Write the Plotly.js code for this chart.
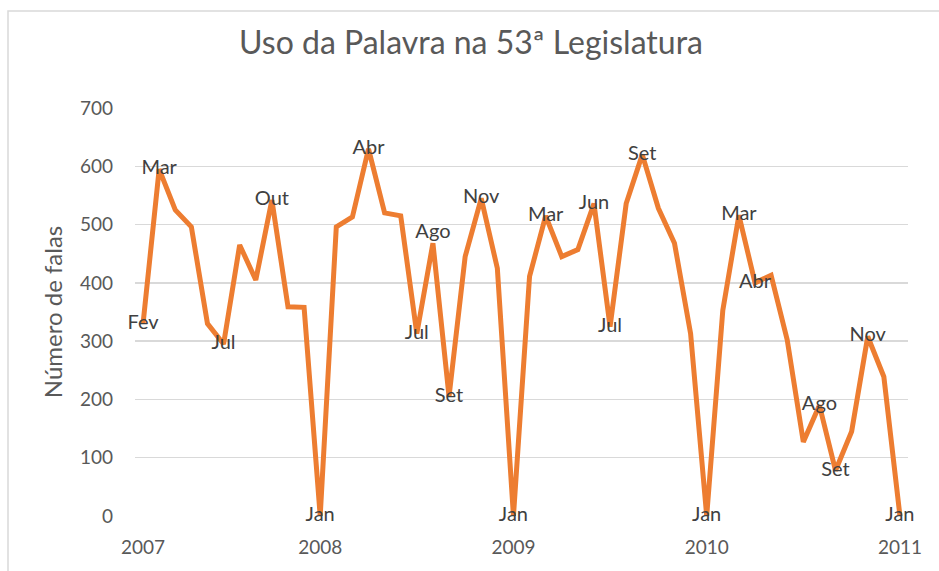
<!DOCTYPE html>
<html>
<head>
<meta charset="utf-8">
<script src="https://cdn.plot.ly/plotly-3.0.1.min.js"></script>
<style>
  html, body { margin: 0; padding: 0; background: #ffffff; }
  #chart { width: 939px; height: 571px; }
</style>
</head>
<body>
<div id="chart"></div>
<script>
// Months (category axis), Feb 2007 .. Jan 2011
const months = [
  "Fev/2007","Mar/2007","Abr/2007","Mai/2007","Jun/2007","Jul/2007","Ago/2007","Set/2007","Out/2007","Nov/2007","Dez/2007",
  "Jan/2008","Fev/2008","Mar/2008","Abr/2008","Mai/2008","Jun/2008","Jul/2008","Ago/2008","Set/2008","Out/2008","Nov/2008","Dez/2008",
  "Jan/2009","Fev/2009","Mar/2009","Abr/2009","Mai/2009","Jun/2009","Jul/2009","Ago/2009","Set/2009","Out/2009","Nov/2009","Dez/2009",
  "Jan/2010","Fev/2010","Mar/2010","Abr/2010","Mai/2010","Jun/2010","Jul/2010","Ago/2010","Set/2010","Out/2010","Nov/2010","Dez/2010",
  "Jan/2011"
];

// Number of speeches per month
const falas = [
  330, 595, 525, 496, 330, 295, 465, 405, 542, 359, 358,
  0, 496, 513, 630, 520, 515, 313, 468, 205, 445, 545, 425,
  0, 411, 515, 445, 457, 536, 325, 536, 620, 528, 468, 313,
  0, 353, 516, 400, 413, 302, 127, 190, 78, 145, 308, 239,
  0
];

// Data labels shown on selected points
const pointLabels = [
  "Fev", "Mar", "", "", "", "Jul", "", "", "Out", "", "",
  "Jan", "", "", "Abr", "", "", "Jul", "Ago", "Set", "", "Nov", "",
  "Jan", "", "Mar", "", "", "Jun", "Jul", "", "Set", "", "", "",
  "Jan", "", "Mar", "Abr", "", "", "", "Ago", "Set", "", "Nov", "",
  "Jan"
];

// Label placement relative to each point
const labelPos = pointLabels.map((t, i) => (i === 18 ? "top center" : "middle center"));

// Axis ticks
const yearTickVals = ["Fev/2007", "Jan/2008", "Jan/2009", "Jan/2010", "Jan/2011"];
const yearTickText = ["2007", "2008", "2009", "2010", "2011"];
const yTickVals = [0, 100, 200, 300, 400, 500, 600, 700];

const FONT = "Lato, 'Open Sans', 'Liberation Sans', sans-serif";

const trace = {
  type: "scatter",
  mode: "lines+text",
  x: months,
  y: falas,
  text: pointLabels,
  textposition: labelPos,
  textfont: { family: FONT, size: 20, color: "#404040" },
  line: { color: "#ED7D31", width: 5 },
  hoverinfo: "x+y",
  cliponaxis: false,
  showlegend: false
};

// Plot area: x 135..908, y 108..516
const L = 135, R = 908, T = 108, B = 516;
const W = 939, H = 571;
const px2x = (p) => (p - L) / (R - L);
const px2y = (p) => (B - p) / (B - T);

const layout = {
  width: W,
  height: H,
  margin: { l: L, r: W - R, t: T, b: H - B, pad: 0 },
  paper_bgcolor: "#ffffff",
  plot_bgcolor: "#ffffff",
  font: { family: FONT, color: "#595959" },
  title: {
    text: "Uso da Palavra na 53ª Legislatura",
    font: { family: FONT, size: 32, color: "#595959" },
    x: 471 / W, xref: "container", xanchor: "center",
    y: (H - 43) / H, yref: "container", yanchor: "middle"
  },
  xaxis: {
    type: "category",
    range: [-0.5, months.length - 0.5],
    tickmode: "array",
    tickvals: yearTickVals,
    ticktext: yearTickText,
    showgrid: false,
    zeroline: false,
    showline: false,
    ticks: "",
    ticklabelstandoff: 18,
    tickfont: { family: FONT, size: 19, color: "#595959" },
    fixedrange: true
  },
  yaxis: {
    range: [0, 700],
    tickmode: "array",
    tickvals: yTickVals,
    showgrid: true,
    gridcolor: "#d9d9d9",
    gridwidth: 1.5,
    zeroline: false,
    showline: false,
    ticks: "",
    ticklabelstandoff: 21,
    tickfont: { family: FONT, size: 19, color: "#595959" },
    title: {
      text: "Número de falas",
      font: { family: FONT, size: 24, color: "#595959" },
      standoff: 10
    },
    fixedrange: true
  },
  shapes: [
    {
      type: "rect",
      xref: "paper", yref: "paper",
      x0: px2x(8), x1: px2x(W + 20),
      y0: px2y(H + 20), y1: px2y(11),
      line: { color: "#d9d9d9", width: 1.5 },
      fillcolor: "rgba(0,0,0,0)",
      layer: "below"
    }
  ]
};

Plotly.newPlot("chart", [trace], layout, { displayModeBar: false, staticPlot: true });
</script>
</body>
</html>
